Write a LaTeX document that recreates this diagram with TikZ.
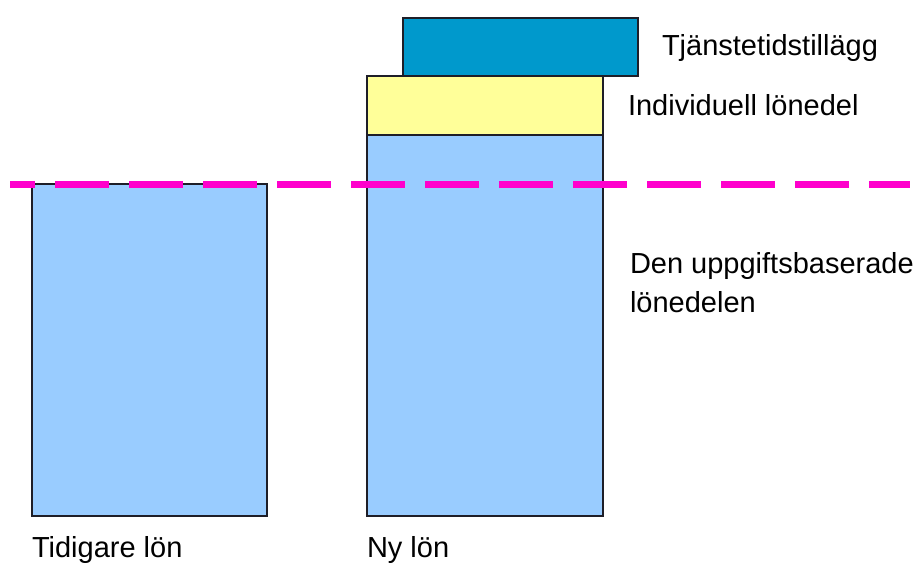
\documentclass[tikz,border=0pt]{standalone}
\usepackage{fontspec}
\setmainfont{Liberation Sans}
\definecolor{lightblue}{RGB}{153,204,255}
\definecolor{paleyellow}{RGB}{255,255,153}
\definecolor{topblue}{RGB}{0,153,204}
\definecolor{magline}{RGB}{255,0,204}
\definecolor{edge}{RGB}{30,30,40}
\begin{document}
\begin{tikzpicture}[x=1pt,y=-1pt,
  bar/.style={draw=edge,line width=1.5pt},
  lbl/.style={anchor=base west,inner sep=0pt,outer sep=0pt,font=\fontsize{29}{39}\selectfont,align=left}]
\useasboundingbox[fill=white] (0,0) rectangle (918,563);
% left bar
\draw[bar,fill=lightblue] (32,184) rectangle (267,516);
% right stack
\draw[bar,fill=lightblue] (367,135) rectangle (603,516);
\draw[bar,fill=paleyellow] (367,76) rectangle (603,135);
\draw[bar,fill=topblue] (403,18) rectangle (638,76);
% dashed threshold line
\coordinate (ls) at (10,184);
\coordinate (le) at (910,184);
\draw[magline,line width=7pt,dash pattern=on 54pt off 20pt,dash phase=29pt] (ls) -- (le);
% labels
\node[lbl] (tj) at (662,55) {Tjänstetidstillägg};
\node[lbl] (ind) at (628,115) {Individuell lönedel};
\node[lbl] (den) at (630,312) {Den uppgiftsbaserade\\lönedelen};
\node[lbl] (tid) at (32,557) {Tidigare lön};
\node[lbl] (ny) at (367,557) {Ny lön};
\end{tikzpicture}
\end{document}
